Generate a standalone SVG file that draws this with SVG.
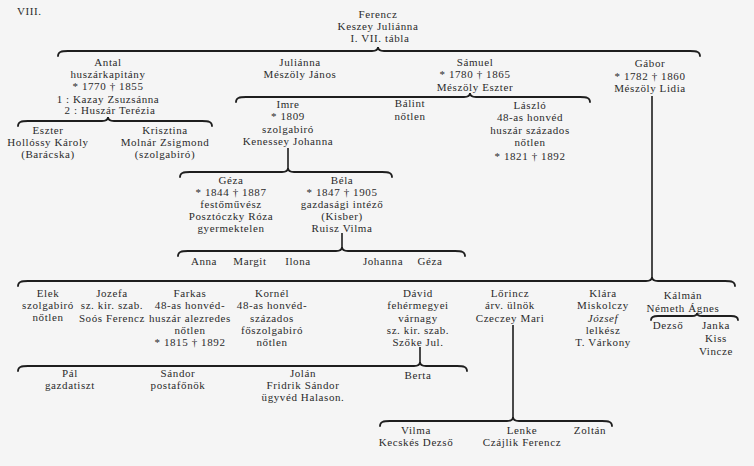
<svg xmlns="http://www.w3.org/2000/svg" width="754" height="466" viewBox="0 0 754 466">
<style>
text{font-family:"Liberation Serif","DejaVu Serif",serif;font-size:11px;fill:#2b2b2b;text-anchor:middle;letter-spacing:0.6px}
.l{text-anchor:start}
.br{fill:none;stroke:#1e1e1e;stroke-width:1.8;stroke-linecap:round}
.v{fill:none;stroke:#1e1e1e;stroke-width:1.6}
</style>
<rect width="754" height="466" fill="#f5f5f5"/>
<g id="connectors">
<path class="br" d="M58,56 C58,52 61,51 68,51 L372,51 C376,51 378,50 378,47 C378,50 380,51 384,51 L690,51 C697,51 700,52 700,56"/>
<path class="br" d="M18,126 C18,122 21,121 28,121 L102,121 C106,121 108,120 108,117 C108,120 110,121 114,121 L202,121 C209,121 212,122 212,126"/>
<path class="br" d="M236,102 C236,98 239,97 246,97 L464,97 C468,97 470,96 470,93 C470,96 472,97 476,97 L580,97 C587,97 590,98 590,102"/>
<path class="v" d="M288,148 V170"/>
<path class="br" d="M180,177 C180,173 183,172 190,172 L282,172 C286,172 288,171 288,168 C288,171 290,172 294,172 L382,172 C389,172 392,173 392,177"/>
<path class="v" d="M342,233 V249"/>
<path class="br" d="M178,256 C178,252 181,251 188,251 L336,251 C340,251 342,250 342,247 C342,250 344,251 348,251 L455,251 C462,251 465,252 465,256"/>
<path class="v" d="M652,96 V278"/>
<path class="br" d="M18,286 C18,282 21,281 28,281 L646,281 C650,281 652,280 652,277 C652,280 654,281 658,281 L725,281 C732,281 735,282 735,286"/>
<path class="br" d="M651,320 C651,317 653,316 658,316 L692,316 C695,316 697,315 697,313 C697,315 699,316 702,316 L731,316 C736,316 738,317 738,320"/>
<path class="v" d="M420,347 V363"/>
<path class="br" d="M18,371 C18,367 21,366 28,366 L414,366 C418,366 420,365 420,362 C420,365 422,366 426,366 L457,366 C464,366 467,367 467,371"/>
<path class="v" d="M513,325 V418"/>
<path class="br" d="M380,426 C380,422 383,421 390,421 L507,421 C511,421 513,420 513,417 C513,420 515,421 519,421 L602,421 C609,421 612,422 612,426"/>
</g>
<g id="title"><text class="l" x="17" y="15">VIII.</text></g>
<g id="ferencz"><text x="378" y="18">Ferencz</text><text x="378" y="30">Keszey Juliánna</text><text x="380" y="42">I. VII. tábla</text></g>
<g id="antal"><text x="108" y="66">Antal</text><text x="108" y="78">huszárkapitány</text><text x="108" y="90">* 1770 † 1855</text><text x="108" y="103">1 : Kazay Zsuzsánna</text><text x="110" y="114">2 : Huszár Terézia</text></g>
<g id="julianna"><text x="300" y="66">Juliánna</text><text x="300" y="78">Mészöly János</text></g>
<g id="samuel"><text x="475" y="66">Sámuel</text><text x="475" y="78">* 1780 † 1865</text><text x="475" y="91">Mészöly Eszter</text></g>
<g id="gabor"><text x="650" y="67">Gábor</text><text x="650" y="80">* 1782 † 1860</text><text x="650" y="92">Mészöly Lidia</text></g>
<g id="eszter"><text x="48" y="134">Eszter</text><text x="48" y="146">Hollóssy Károly</text><text x="48" y="158">(Barácska)</text></g>
<g id="krisztina"><text x="165" y="134">Krisztina</text><text x="165" y="146">Molnár Zsigmond</text><text x="165" y="158">(szolgabiró)</text></g>
<g id="imre"><text x="288" y="108">Imre</text><text x="288" y="120">* 1809</text><text x="288" y="133">szolgabiró</text><text x="288" y="145">Kenessey Johanna</text></g>
<g id="balint"><text x="410" y="107">Bálint</text><text x="410" y="120">nőtlen</text></g>
<g id="laszlo"><text x="530" y="109">László</text><text x="530" y="121">48-as honvéd</text><text x="530" y="134">huszár százados</text><text x="530" y="146">nőtlen</text><text x="530" y="160">* 1821 † 1892</text></g>
<g id="geza1"><text x="231" y="184">Géza</text><text x="231" y="196">* 1844 † 1887</text><text x="231" y="208">festőművész</text><text x="231" y="220">Posztóczky Róza</text><text x="231" y="232">gyermektelen</text></g>
<g id="bela"><text x="342" y="184">Béla</text><text x="342" y="196">* 1847 † 1905</text><text x="342" y="208">gazdasági intéző</text><text x="342" y="220">(Kisber)</text><text x="342" y="232">Ruisz Vilma</text></g>
<g id="anna"><text x="204" y="265">Anna</text></g>
<g id="margit"><text x="250" y="265">Margit</text></g>
<g id="ilona"><text x="298" y="265">Ilona</text></g>
<g id="johanna"><text x="383" y="265">Johanna</text></g>
<g id="geza2"><text x="430" y="265">Géza</text></g>
<g id="elek"><text x="48" y="297">Elek</text><text x="48" y="309">szolgabiró</text><text x="48" y="321">nőtlen</text></g>
<g id="jozefa"><text x="112" y="297">Jozefa</text><text x="112" y="309">sz. kir. szab.</text><text x="112" y="322">Soós Ferencz</text></g>
<g id="farkas"><text x="190" y="297">Farkas</text><text x="190" y="309">48-as honvéd-</text><text x="190" y="322">huszár alezredes</text><text x="190" y="334">nőtlen</text><text x="190" y="346">* 1815 † 1892</text></g>
<g id="kornel"><text x="272" y="297">Kornél</text><text x="272" y="309">48-as honvéd-</text><text x="272" y="322">százados</text><text x="272" y="334">főszolgabiró</text><text x="272" y="346">nőtlen</text></g>
<g id="david"><text x="418" y="297">Dávid</text><text x="418" y="309">fehérmegyei</text><text x="418" y="322">várnagy</text><text x="418" y="334">sz. kir. szab.</text><text x="418" y="346">Szőke Jul.</text></g>
<g id="lorincz"><text x="510" y="297">Lőrincz</text><text x="510" y="309">árv. ülnök</text><text x="510" y="322">Czeczey Mari</text></g>
<g id="klara"><text x="603" y="297">Klára</text><text x="603" y="309">Miskolczy</text><text x="603" y="322" font-style="italic">József</text><text x="603" y="334">lelkész</text><text x="603" y="346">T. Várkony</text></g>
<g id="kalman"><text x="683" y="299">Kálmán</text><text x="683" y="312">Németh Ágnes</text></g>
<g id="dezso"><text x="668" y="329">Dezső</text></g>
<g id="janka"><text x="716" y="329">Janka</text><text x="716" y="342">Kiss</text><text x="716" y="355">Vincze</text></g>
<g id="pal"><text x="70" y="377">Pál</text><text x="70" y="389">gazdatiszt</text></g>
<g id="sandor"><text x="178" y="377">Sándor</text><text x="178" y="389">postafőnök</text></g>
<g id="jolan"><text x="303" y="377">Jolán</text><text x="303" y="389">Fridrik Sándor</text><text x="303" y="401">ügyvéd Halason.</text></g>
<g id="berta"><text x="418" y="379">Berta</text></g>
<g id="vilma"><text x="416" y="434">Vilma</text><text x="416" y="446">Kecskés Dezső</text></g>
<g id="lenke"><text x="522" y="434">Lenke</text><text x="522" y="446">Czájlik Ferencz</text></g>
<g id="zoltan"><text x="590" y="434">Zoltán</text></g>
</svg>
